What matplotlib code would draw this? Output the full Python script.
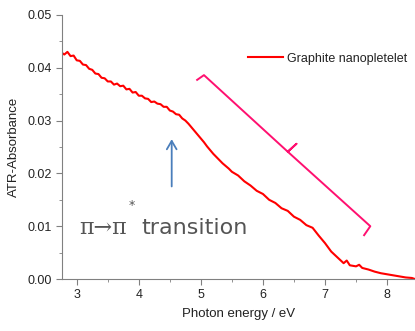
import matplotlib.pyplot as plt
from matplotlib.ticker import MultipleLocator

plt.rcParams['font.family'] = ['Liberation Sans', 'DejaVu Sans']

# photon energy (eV) and ATR absorbance
energy = [2.75, 2.8, 2.85, 2.9, 2.95, 3.0, 3.05, 3.1, 3.15, 3.2, 3.25, 3.3,
          3.35, 3.4, 3.45, 3.5, 3.55, 3.6, 3.65, 3.7, 3.75, 3.8, 3.85, 3.9,
          3.95, 4.0, 4.05, 4.1, 4.15, 4.2, 4.25, 4.3, 4.35, 4.4, 4.45, 4.5,
          4.55, 4.6, 4.65, 4.7, 4.75, 4.8, 4.85, 4.9, 4.95, 5.0, 5.05, 5.1,
          5.15, 5.2, 5.25, 5.3, 5.35, 5.4, 5.45, 5.5, 5.6, 5.7, 5.8, 5.9,
          6.0, 6.1, 6.2, 6.3, 6.4, 6.5, 6.6, 6.7, 6.8, 6.9, 7.0, 7.1, 7.2,
          7.3, 7.35, 7.4, 7.5, 7.55, 7.6, 7.7, 7.8, 7.9, 8.0, 8.1, 8.2, 8.3,
          8.4, 8.45]
absorb = [.0429, .0425, .0430, .0422, .0423, .0414, .0413, .0406, .0405,
          .0398, .0396, .0389, .0388, .0381, .0380, .0374, .0374, .0368,
          .0370, .0365, .0366, .0359, .0360, .0353, .0354, .0347, .0347,
          .0342, .0341, .0335, .0336, .0332, .0331, .0326, .0326, .0319,
          .0317, .0312, .0311, .0304, .0300, .0294, .0287, .0280, .0273,
          .0266, .0259, .0251, .0244, .0237, .0231, .0225, .0219, .0214,
          .0209, .0203, .0196, .0185, .0177, .0167, .0161, .0150, .0144,
          .0134, .0129, .0118, .0112, .0102, .0097, .0082, .0068, .0052,
          .0041, .0030, .0035, .0026, .0024, .0027, .0021, .0018, .0014,
          .0011, .0009, .0007, .0005, .0003, .0002, .0000]

# bracket and arrow annotations (data coords)
brk_x = [4.94, 5.05, 6.40, 6.54, 6.40, 7.73, 7.63]
brk_y = [0.0377, 0.0386, 0.0241, 0.0256, 0.0241, 0.0100, 0.0083]

fig = plt.figure(figsize=(4.15, 3.31), dpi=100)
ax = fig.add_axes([0.149, 0.157, 0.851, 0.798])

ax.plot(energy, absorb, color='#ff0000', lw=1.5, label='Graphite nanopletelet')
ax.plot(brk_x, brk_y, color='#ff1070', lw=1.4)
ax.annotate('', xy=(4.53, 0.0270), xytext=(4.53, 0.0170),
            arrowprops=dict(arrowstyle='->,head_width=0.35,head_length=0.6',
                            color='#4a7ebb', lw=1.3))

ax.text(3.04, 0.0085, 'π→π', fontsize=16, color='#555555',
        family='DejaVu Serif', va='baseline')
ax.text(3.84, 0.0132, '*', fontsize=9, color='#555555', family='DejaVu Sans')
ax.text(4.04, 0.0085, 'transition', fontsize=16, color='#555555',
        family='DejaVu Sans', va='baseline')

ax.set_xlim(2.76, 8.45)
ax.set_ylim(0, 0.05)
ax.xaxis.set_major_locator(MultipleLocator(1))
ax.xaxis.set_minor_locator(MultipleLocator(0.5))
ax.yaxis.set_major_locator(MultipleLocator(0.01))
ax.yaxis.set_minor_locator(MultipleLocator(0.005))
ax.yaxis.set_major_formatter(plt.FuncFormatter(lambda v, p: '%.2f' % v))

for s in ['top', 'right']:
    ax.spines[s].set_visible(False)
for s in ['left', 'bottom']:
    ax.spines[s].set_color('#808080')
ax.tick_params(which='both', direction='out', color='#808080', labelsize=9,
               labelcolor='#222222')
ax.tick_params(which='major', length=4)
ax.tick_params(which='minor', length=2)

ax.set_xlabel('Photon energy / eV', fontsize=9.5, color='#222222', labelpad=5)
ax.set_ylabel('ATR-Absorbance', fontsize=9.5, color='#222222', labelpad=5)

leg = ax.legend(loc='upper right', bbox_to_anchor=(1.01, 0.9), frameon=False,
                fontsize=9, handlelength=2.8, handletextpad=0.3)
for t in leg.get_texts():
    t.set_color('#222222')

fig.savefig('out.png', dpi=100)
